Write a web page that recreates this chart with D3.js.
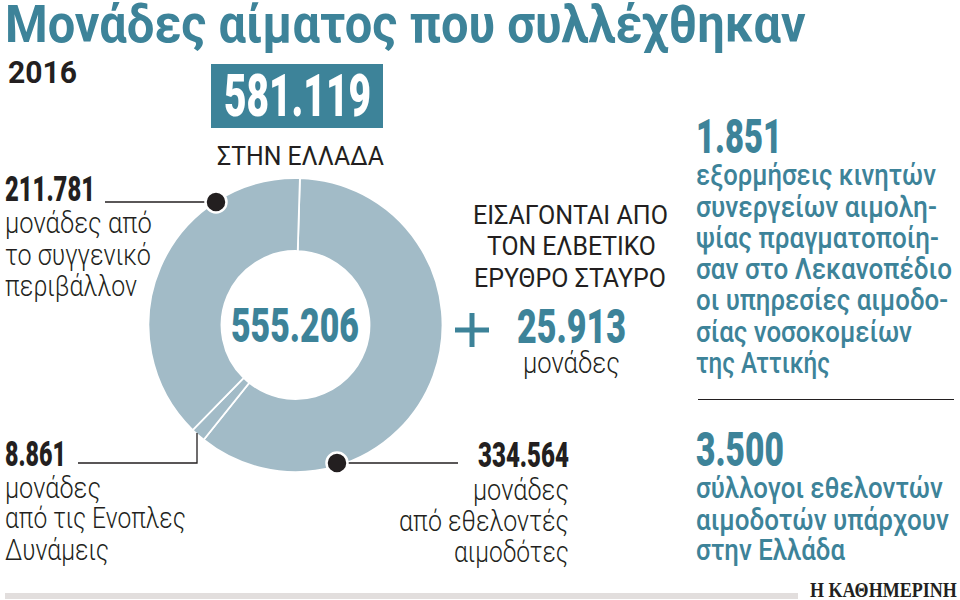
<!DOCTYPE html>
<html lang="el">
<head>
<meta charset="utf-8">
<title>Μονάδες αίματος που συλλέχθηκαν</title>
<script src="https://cdn.jsdelivr.net/npm/d3@7"></script>
<style>
  html, body { margin: 0; background: #fff; }
  svg { display: block; }
</style>
</head>
<body>
<div id="chart"></div>
<script>
////////////////////////////////////////////////////////////////////////
// Data

let sliceNames = ["volunteers", "armedForces", "relatives"];
let sliceValues = [334564, 8861, 211781];
let collectedTotal = 555206;
let importedUnits = 25913;
let greeceTotal = 581119;
let mobileDrives = 1851;
let donorClubs = 3500;

let width = 960;
let height = 600;
let teal = "#3d8399";
let ink = "#231f20";

let svg = d3.select("#chart").append("svg")
  .attr("width", width).attr("height", height)
  .style("background", "#fff");

let greek = d3.formatLocale({ decimal: ",", thousands: ".", grouping: [3], currency: ["", "€"] });
let fmt = greek.format(",d");

// text squeezed to the width it takes in the reference, the original
// face is a condensed one and we do not have it here
function label(txt, x0, x1, y, size, color, weight, family) {
  let t = svg.append("text")
    .text(txt)
    .attr("font-family", family || "Roboto, sans-serif")
    .attr("font-size", size)
    .attr("font-weight", weight || 400)
    .attr("fill", color || ink);
  let sx = (x1 - x0) / t.node().getComputedTextLength();
  t.attr("transform", "translate(" + x0 + "," + y + ")scale(" + sx + ",1)");
  return t;
}

////////////////////////////////////////////////////////////////////////
// Header

label("Μονάδες αίματος που συλλέχθηκαν", 5, 806, 42, 51, teal, 700);
label("2016", 8, 77, 83, 31, ink, 700);

svg.append("rect")
  .attr("x", 211).attr("y", 64)
  .attr("width", 172).attr("height", 64)
  .attr("fill", teal);
label(fmt(greeceTotal), 224, 371, 116, 60, "#fff", 900);
label("ΣΤΗΝ ΕΛΛΑΔΑ", 217, 384, 165, 25, ink, 400);

////////////////////////////////////////////////////////////////////////
// Donut

let pie = d3.pie()
  .sort(null)
  .startAngle(0.03)
  .endAngle(0.03 + 2 * Math.PI);

let arc = d3.arc().innerRadius(74).outerRadius(147);

svg.append("g")
  .attr("transform", "translate(295.5,325)")
  .selectAll("path")
  .data(pie(sliceValues))
  .enter()
  .append("path")
  .attr("d", arc)
  .attr("fill", "#a2bbc7")
  .attr("stroke", "#fff")
  .attr("stroke-width", 1.8);

label(fmt(collectedTotal), 231, 359, 342, 48, teal, 900);

////////////////////////////////////////////////////////////////////////
// Leader lines and dots

function leader(points) {
  svg.append("path")
    .attr("d", d3.line()(points))
    .attr("fill", "none")
    .attr("stroke", ink)
    .attr("stroke-width", 1.3);
}

function dot(x, y) {
  svg.append("circle")
    .attr("cx", x).attr("cy", y).attr("r", 10.5)
    .attr("fill", ink)
    .attr("stroke", "#fff").attr("stroke-width", 2.5);
}

leader([[105, 202], [210, 202]]);
dot(216, 202);
leader([[78, 463], [197, 463], [197, 433]]);
leader([[337, 463], [458, 463]]);
dot(337, 463);

////////////////////////////////////////////////////////////////////////
// Slice labels

label(fmt(sliceValues[2]), 5, 95, 201, 35, ink, 900);
label("μονάδες από", 5, 152, 233, 30, ink, 300);
label("το συγγενικό", 5, 151, 265, 30, ink, 300);
label("περιβάλλον", 5, 137, 296, 30, ink, 300);

label(fmt(sliceValues[1]), 5, 66, 466, 35, ink, 900);
label("μονάδες", 5, 101, 498, 30, ink, 300);
label("από τις Ενοπλες", 5, 186, 528, 30, ink, 300);
label("Δυνάμεις", 5, 109, 560, 30, ink, 300);

label(fmt(sliceValues[0]), 478, 569, 467, 35, ink, 900);
label("μονάδες", 473, 569, 500, 30, ink, 300);
label("από εθελοντές", 399, 569, 531, 30, ink, 300);
label("αιμοδότες", 454, 569, 562, 30, ink, 300);

////////////////////////////////////////////////////////////////////////
// Imported units

label("ΕΙΣΑΓΟΝΤΑΙ ΑΠΟ", 473, 668, 224, 25, ink, 400);
label("ΤΟΝ ΕΛΒΕΤΙΚΟ", 487, 656, 255, 25, ink, 400);
label("ΕΡΥΘΡΟ ΣΤΑΥΡΟ", 474, 666, 287, 25, ink, 400);

svg.append("path")
  .attr("d", "M455,330H489M472,313V347")
  .attr("stroke", teal)
  .attr("stroke-width", 5)
  .attr("fill", "none");

label(fmt(importedUnits), 517, 626, 343, 48, teal, 900);
label("μονάδες", 523, 620, 373, 30, ink, 300);

////////////////////////////////////////////////////////////////////////
// Right column

label(fmt(mobileDrives), 696, 782, 153, 48, teal, 900);
label("εξορμήσεις κινητών", 696, 936, 185, 30, teal, 500);
label("συνεργείων αιμολη-", 696, 937, 217, 30, teal, 500);
label("ψίας πραγματοποίη-", 696, 939, 248, 30, teal, 500);
label("σαν στο Λεκανοπέδιο", 696, 952, 279, 30, teal, 500);
label("οι υπηρεσίες αιμοδο-", 696, 948, 310, 30, teal, 500);
label("σίας νοσοκομείων", 696, 912, 342, 30, teal, 500);
label("της Αττικής", 696, 830, 373, 30, teal, 500);

svg.append("line")
  .attr("x1", 698).attr("x2", 954)
  .attr("y1", 399.5).attr("y2", 399.5)
  .attr("stroke", ink).attr("stroke-width", 1.2);

label(fmt(donorClubs), 696, 784, 466, 48, teal, 900);
label("σύλλογοι εθελοντών", 696, 943, 498, 30, teal, 500);
label("αιμοδοτών υπάρχουν", 696, 949, 530, 30, teal, 500);
label("στην Ελλάδα", 696, 845, 560, 30, teal, 500);

////////////////////////////////////////////////////////////////////////
// Footer

svg.append("rect")
  .attr("x", 5).attr("y", 593)
  .attr("width", 793).attr("height", 6)
  .attr("fill", "#e2dedd");
label("Η ΚΑΘΗΜΕΡΙΝΗ", 810, 957, 597, 20, ink, 700, "'Liberation Serif', serif");
</script>
</body>
</html>
